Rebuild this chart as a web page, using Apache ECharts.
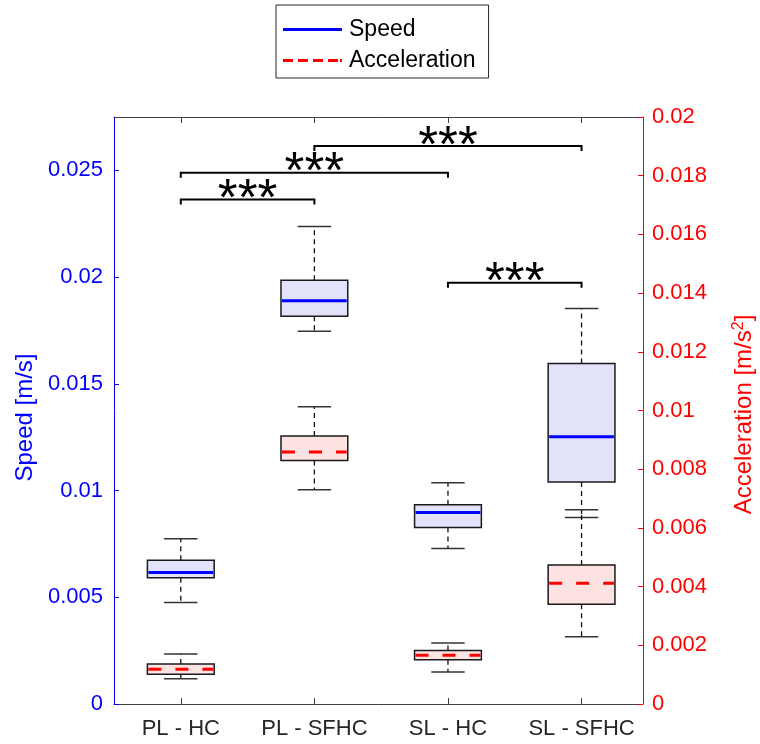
<!DOCTYPE html>
<html>
<head>
<meta charset="utf-8">
<script src="https://cdn.jsdelivr.net/npm/echarts@6/dist/echarts.min.js"></script>
<style>
html,body{margin:0;padding:0;background:#fff;}
#chart{width:760px;height:744px;}
</style>
</head>
<body>
<div id="chart"></div>
<script>
// ---- Data ----
const categories = ['PL - HC', 'PL - SFHC', 'SL - HC', 'SL - SFHC'];

const speedLower  = [0.00475, 0.01746, 0.00728, 0.00874];
const speedQ1     = [0.00592, 0.01817, 0.00827, 0.01040];
const speedMedian = [0.00616, 0.01889, 0.00897, 0.01252];
const speedQ3     = [0.00674, 0.01985, 0.00933, 0.01595];
const speedUpper  = [0.00774, 0.02237, 0.01037, 0.01853];

const accLower  = [0.00086, 0.00730, 0.00109, 0.00229];
const accQ1     = [0.00101, 0.00830, 0.00151, 0.00340];
const accMedian = [0.00118, 0.00859, 0.00166, 0.00411];
const accQ3     = [0.00136, 0.00913, 0.00182, 0.00474];
const accUpper  = [0.00170, 0.01013, 0.00208, 0.00662];

const bracketFrom  = [1, 1, 2, 3];
const bracketTo    = [2, 3, 4, 4];
const bracketLevel = [0.02363, 0.02489, 0.02614, 0.01973];
const bracketLabel = ['***', '***', '***', '***'];

const speedTicks = { min: 0, max: 0.0275, interval: 0.005 };
const accTicks   = { min: 0, max: 0.02, interval: 0.002 };
const catPositions = categories.map((c, i) => i + 1);

// ---- Build ----
const FONT = "'Liberation Sans', Arial, Helvetica, sans-serif";
const speedData = categories.map((c, i) => [i + 1, speedLower[i], speedQ1[i], speedMedian[i], speedQ3[i], speedUpper[i]]);
const accData   = categories.map((c, i) => [i + 1, accLower[i], accQ1[i], accMedian[i], accQ3[i], accUpper[i]]);
const bracketData = bracketFrom.map((f, i) => [f, bracketTo[i], bracketLevel[i]]);

function boxRenderer(fill, medColor, medDash) {
  return function (params, api) {
    const x = api.value(0);
    const lo = api.coord([x, api.value(1)]);
    const q1 = api.coord([x, api.value(2)]);
    const md = api.coord([x, api.value(3)]);
    const q3 = api.coord([x, api.value(4)]);
    const hi = api.coord([x, api.value(5)]);
    const bw = api.size([0.5, 0])[0];
    const cw = api.size([0.25, 0])[0];
    const cx = lo[0];
    const whiskerStyle = { stroke: '#111', lineWidth: 1.3, lineDash: [5, 4] };
    const capStyle = { stroke: '#333', lineWidth: 1.5 };
    return {
      type: 'group',
      children: [
        { type: 'line', shape: { x1: cx, y1: q3[1], x2: cx, y2: hi[1] }, style: whiskerStyle },
        { type: 'line', shape: { x1: cx, y1: q1[1], x2: cx, y2: lo[1] }, style: whiskerStyle },
        { type: 'line', shape: { x1: cx - cw / 2, y1: hi[1], x2: cx + cw / 2, y2: hi[1] }, style: capStyle },
        { type: 'line', shape: { x1: cx - cw / 2, y1: lo[1], x2: cx + cw / 2, y2: lo[1] }, style: capStyle },
        { type: 'rect', shape: { x: cx - bw / 2, y: q3[1], width: bw, height: q1[1] - q3[1] },
          style: { fill: fill, stroke: '#1a1a1a', lineWidth: 1.5 } },
        { type: 'line', shape: { x1: cx - bw / 2 + 1, y1: md[1], x2: cx + bw / 2 - 1, y2: md[1] },
          style: { stroke: medColor, lineWidth: 3, lineDash: medDash } }
      ]
    };
  };
}

function bracketRenderer(params, api) {
  const y = api.value(2);
  const p1 = api.coord([api.value(0), y]);
  const p2 = api.coord([api.value(1), y]);
  return {
    type: 'group',
    children: [
      { type: 'polyline', shape: { points: [[p1[0], p1[1] + 5], [p1[0], p1[1]], [p2[0], p2[1]], [p2[0], p2[1] + 5]] },
        style: { stroke: '#000', lineWidth: 2, fill: null } },
      { type: 'text', x: (p1[0] + p2[0]) / 2, y: p1[1] + 27,
        style: { text: bracketLabel[params.dataIndex], fill: '#000', font: '51px ' + FONT,
                 textAlign: 'center', textVerticalAlign: 'bottom' } }
    ]
  };
}

const dashIcon = 'path://M0,0h10v3h-10z M15,0h10v3h-10z M30,0h10v3h-10z M45,0h10v3h-10z M57,0h2v3h-2z';

const chart = echarts.init(document.getElementById('chart'), null, { renderer: 'canvas' });
const xCommon = {
  type: 'value', min: 0.5, max: 4.46,
  splitLine: { show: false },
  axisLine: { show: true, onZero: false, lineStyle: { color: '#404040', width: 1 } },
  axisTick: { show: true, inside: true, length: 6, customValues: catPositions, lineStyle: { color: '#404040' } }
};
chart.setOption({
  animation: false,
  backgroundColor: '#fff',
  textStyle: { fontFamily: FONT },
  grid: { left: 114, right: 117, top: 117, bottom: 40, containLabel: false, outerBoundsMode: 'none' },
  legend: {
    orient: 'vertical', left: 276, top: 5,
    padding: [13, 13, 6, 7], itemGap: 8, itemWidth: 59, itemHeight: 3,
    borderColor: '#262626', borderWidth: 1, backgroundColor: '#fff', borderRadius: 0,
    selectedMode: false,
    textStyle: { fontSize: 23, color: '#000', fontFamily: FONT, padding: [0, 0, 0, 2] },
    data: [
      { name: 'Speed', icon: 'rect', itemStyle: { color: '#0000ff' } },
      { name: 'Acceleration', icon: dashIcon, itemStyle: { color: '#ff0000' } }
    ]
  },
  xAxis: [
    Object.assign({}, xCommon, {
      position: 'bottom',
      axisLabel: { show: true, customValues: catPositions, margin: 14, fontSize: 22, color: '#262626',
                   formatter: v => categories[Math.round(v) - 1] }
    }),
    Object.assign({}, xCommon, { position: 'top', axisLabel: { show: false } })
  ],
  yAxis: [
    {
      type: 'value', position: 'left', min: speedTicks.min, max: speedTicks.max, interval: speedTicks.interval,
      splitLine: { show: false },
      axisLine: { show: true, onZero: false, lineStyle: { color: '#0000ff', width: 1 } },
      axisTick: { show: true, inside: true, length: 5, lineStyle: { color: '#0000ff' } },
      axisLabel: { color: '#0000ff', fontSize: 22, margin: 11, showMaxLabel: false },
      name: 'Speed [m/s]', nameLocation: 'middle', nameGap: 72, nameRotate: 90,
      nameTextStyle: { color: '#0000ff', fontSize: 24, padding: [0, 14, 0, 0] }
    },
    {
      type: 'value', position: 'right', min: accTicks.min, max: accTicks.max, interval: accTicks.interval,
      splitLine: { show: false },
      axisLine: { show: true, onZero: false, lineStyle: { color: '#ff0000', width: 1 } },
      axisTick: { show: true, inside: true, length: 5, lineStyle: { color: '#ff0000' } },
      axisLabel: { color: '#ff0000', fontSize: 22, margin: 9 },
      name: 'Acceleration [m/s{sup|2}]', nameLocation: 'middle', nameGap: 88, nameRotate: 90,
      nameTextStyle: { color: '#ff0000', fontSize: 24, lineHeight: 26, padding: [0, 8, 0, 0],
        rich: { sup: { fontSize: 16, color: '#ff0000', verticalAlign: 'top', lineHeight: 16 } } }
    }
  ],
  series: [
    { name: 'Speed', type: 'line', data: [], symbol: 'none', xAxisIndex: 0, yAxisIndex: 0,
      lineStyle: { color: '#0000ff', width: 3 }, itemStyle: { color: '#0000ff' } },
    { name: 'Acceleration', type: 'line', data: [], symbol: 'none', xAxisIndex: 0, yAxisIndex: 1,
      lineStyle: { color: '#ff0000', width: 3, type: [10, 5] }, itemStyle: { color: '#ff0000' } },
    { name: 'speedBoxes', type: 'custom', xAxisIndex: 0, yAxisIndex: 0, data: speedData,
      encode: { x: 0, y: [1, 2, 3, 4, 5] }, renderItem: boxRenderer('#e2e2fb', '#0000ff', null), z: 3 },
    { name: 'accBoxes', type: 'custom', xAxisIndex: 0, yAxisIndex: 1, data: accData,
      encode: { x: 0, y: [1, 2, 3, 4, 5] }, renderItem: boxRenderer('#fde2e2', '#ff0000', [13, 14]), z: 3 },
    { name: 'brackets', type: 'custom', xAxisIndex: 0, yAxisIndex: 0, data: bracketData,
      encode: { x: [0, 1], y: 2 }, renderItem: bracketRenderer, z: 4 }
  ]
});
</script>
</body>
</html>
